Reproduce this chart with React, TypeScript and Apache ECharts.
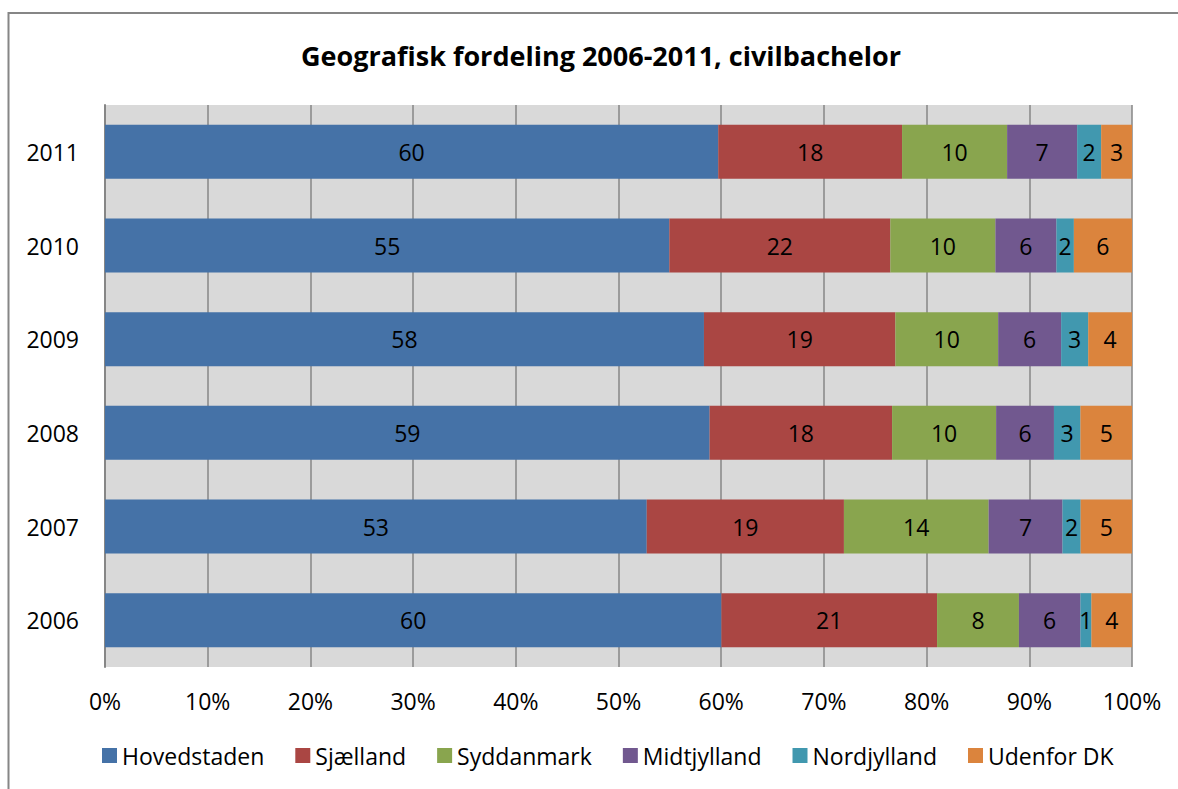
import React, { useEffect, useRef } from "react";
import * as echarts from "echarts";

const years = ["2006", "2007", "2008", "2009", "2010", "2011"];
const seriesNames = ["Hovedstaden", "Sjælland", "Syddanmark", "Midtjylland", "Nordjylland", "Udenfor DK"];
// shares in % per year (2006..2011)
const hovedstaden = [60.02, 52.75, 58.87, 58.32, 54.95, 59.71];
const sjaelland = [21.0, 19.2, 17.77, 18.64, 21.52, 17.9];
const syddanmark = [7.97, 14.09, 10.13, 10.01, 10.23, 10.23];
const midtjylland = [5.99, 7.19, 5.63, 6.13, 5.94, 6.82];
const nordjylland = [1.07, 1.77, 2.58, 2.64, 1.7, 2.34];
const udenforDK = [3.95, 5.0, 5.02, 4.26, 5.66, 3.02];
const xTicks = [0, 10, 20, 30, 40, 50, 60, 70, 80, 90, 100];
const colors = ["#4572A7", "#AA4643", "#89A54E", "#71588F", "#4198AF", "#DB843D"];
const titleText = "Geografisk fordeling 2006-2011, civilbachelor";

const FONT = "'Open Sans', sans-serif";

export default function App() {
  const ref = useRef<HTMLDivElement>(null);
  useEffect(() => {
    if (!ref.current) return;
    const chart = echarts.init(ref.current, undefined, { renderer: "svg" });
    const allData = [hovedstaden, sjaelland, syddanmark, midtjylland, nordjylland, udenforDK];
    chart.setOption({
      animation: false,
      color: colors,
      textStyle: { fontFamily: FONT },
      graphic: [
        {
          type: "polyline",
          shape: { points: [[8.5, 800], [8.5, 13], [1190, 13]] },
          style: { stroke: "#868686", lineWidth: 2, fill: null },
          silent: true,
        },
        {
          type: "text",
          x: 601,
          y: 55,
          style: {
            text: titleText,
            textAlign: "center",
            textVerticalAlign: "middle",
            font: "bold 27px " + FONT,
            fill: "#000",
          },
        },
      ],
      grid: {
        left: 105,
        right: 46,
        top: 105,
        bottom: 122,
        show: true,
        backgroundColor: "#D9D9D9",
        borderWidth: 0,
      },
      legend: {
        data: seriesNames,
        left: 97,
        top: 739,
        itemWidth: 15,
        itemHeight: 15,
        itemGap: 31,
        icon: "rect",
        textStyle: { fontFamily: FONT, fontSize: 23, color: "#000" },
      },
      xAxis: {
        type: "value",
        min: 0,
        max: 100,
        interval: 10,
        axisLine: { show: false },
        axisTick: { show: false },
        splitLine: { show: true, lineStyle: { color: "#868686", width: 1.5 } },
        axisLabel: {
          margin: 22,
          fontSize: 23,
          color: "#000",
          fontFamily: FONT,
          formatter: (v: number) => (xTicks.includes(v) ? v + "%" : ""),
        },
      },
      yAxis: {
        type: "category",
        data: years,
        axisLine: { show: true, lineStyle: { color: "#868686", width: 2 } },
        axisTick: { show: false },
        axisLabel: { margin: 26, fontSize: 23, color: "#000", fontFamily: FONT },
      },
      series: seriesNames.map((name, i) => ({
        name,
        type: "bar",
        stack: "total",
        barWidth: 54,
        data: allData[i],
        label: {
          show: true,
          position: "inside",
          color: "#000",
          fontSize: 23,
          fontFamily: FONT,
          formatter: (p: any) => String(Math.round(p.value)),
        },
        itemStyle: { borderWidth: 0 },
      })),
    });
    return () => chart.dispose();
  }, []);
  return (
    <div
      ref={ref}
      style={{ position: "fixed", left: 0, top: 0, width: 1178, height: 789, background: "#fff" }}
    />
  );
}
